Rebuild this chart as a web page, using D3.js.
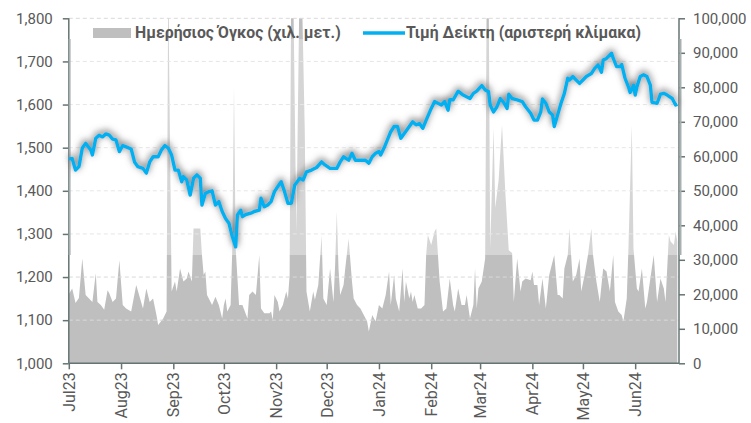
<!DOCTYPE html>
<html>
<head>
<meta charset="utf-8">
<script src="https://cdn.jsdelivr.net/npm/d3@7"></script>
<style>
  body { margin: 0; background: #fff; }
  text { font-family: Roboto, "Liberation Sans", sans-serif; }
</style>
</head>
<body>
<div id="chart"></div>
<script>
// index level (left scale)
const indexDates = ["2023-07-01","2023-07-03","2023-07-05","2023-07-07","2023-07-09","2023-07-11","2023-07-14","2023-07-15","2023-07-17","2023-07-19","2023-07-21","2023-07-23","2023-07-25","2023-07-27","2023-07-29","2023-07-31",
  "2023-08-02","2023-08-04","2023-08-07","2023-08-09","2023-08-11","2023-08-14","2023-08-16","2023-08-18","2023-08-20","2023-08-23","2023-08-25","2023-08-27","2023-08-29","2023-08-31",
  "2023-09-02","2023-09-04","2023-09-06","2023-09-07","2023-09-09","2023-09-11","2023-09-13","2023-09-15","2023-09-17","2023-09-18","2023-09-20","2023-09-22","2023-09-24","2023-09-26","2023-09-28","2023-09-30",
  "2023-10-02","2023-10-04","2023-10-06","2023-10-08","2023-10-09","2023-10-11","2023-10-12","2023-10-14","2023-10-17","2023-10-19","2023-10-22","2023-10-23","2023-10-25","2023-10-27","2023-10-29","2023-10-31",
  "2023-11-02","2023-11-04","2023-11-06","2023-11-08","2023-11-10","2023-11-12","2023-11-15","2023-11-17","2023-11-19","2023-11-22","2023-11-25","2023-11-28","2023-11-30",
  "2023-12-03","2023-12-07","2023-12-09","2023-12-11","2023-12-14","2023-12-16","2023-12-18","2023-12-21","2023-12-24","2023-12-26","2023-12-28","2023-12-30",
  "2024-01-01","2024-01-02","2024-01-04","2024-01-06","2024-01-08","2024-01-10","2024-01-12","2024-01-14","2024-01-16","2024-01-19","2024-01-21","2024-01-23","2024-01-25","2024-01-27","2024-01-29",
  "2024-02-01","2024-02-03","2024-02-05","2024-02-07","2024-02-09","2024-02-11","2024-02-12","2024-02-14","2024-02-17","2024-02-20","2024-02-22","2024-02-24","2024-02-26","2024-02-28",
  "2024-03-02","2024-03-04","2024-03-06","2024-03-07","2024-03-09","2024-03-11","2024-03-13","2024-03-15","2024-03-17","2024-03-18","2024-03-20","2024-03-23","2024-03-26","2024-03-28","2024-03-31",
  "2024-04-02","2024-04-04","2024-04-06","2024-04-07","2024-04-09","2024-04-11","2024-04-13","2024-04-14","2024-04-16","2024-04-18","2024-04-20","2024-04-22","2024-04-23","2024-04-25","2024-04-27","2024-04-29",
  "2024-05-01","2024-05-03","2024-05-06","2024-05-08","2024-05-10","2024-05-12","2024-05-13","2024-05-15","2024-05-18","2024-05-19","2024-05-21","2024-05-23","2024-05-24","2024-05-26","2024-05-28","2024-05-29","2024-05-31",
  "2024-06-01","2024-06-02","2024-06-04","2024-06-06","2024-06-08","2024-06-10","2024-06-11","2024-06-14","2024-06-16","2024-06-18","2024-06-20","2024-06-23","2024-06-25","2024-06-26"];
const indexValues = [1474,1475,1448,1456,1499,1510,1495,1483,1522,1529,1525,1532,1529,1520,1518,1491,
  1505,1502,1497,1467,1456,1452,1441,1467,1479,1479,1495,1505,1499,1483,
  1448,1448,1421,1433,1425,1390,1429,1437,1429,1367,1394,1398,1400,1367,1375,1352,
  1336,1325,1294,1270,1344,1355,1340,1345,1348,1352,1355,1383,1363,1367,1375,1398,
  1410,1421,1398,1371,1371,1413,1429,1425,1444,1448,1454,1467,1460,
  1452,1452,1467,1479,1471,1487,1471,1471,1471,1464,1479,1487,
  1491,1483,1499,1518,1537,1549,1549,1522,1533,1549,1560,1553,1556,1545,1564,
  1591,1607,1603,1599,1607,1587,1611,1611,1631,1622,1618,1614,1626,1631,
  1644,1634,1630,1599,1583,1595,1614,1605,1591,1624,1614,1611,1607,1595,1580,
  1564,1564,1583,1613,1603,1583,1576,1549,1576,1603,1626,1661,1657,1665,1657,1649,
  1657,1665,1672,1684,1692,1675,1703,1707,1719,1707,1688,1688,1693,1661,1641,1628,1645,
  1622,1641,1665,1669,1665,1645,1605,1603,1624,1626,1622,1614,1599,1601];

// daily volume (right scale)
const volumeDates = ["2023-07-01","2023-07-03","2023-07-05","2023-07-07","2023-07-09","2023-07-11","2023-07-13","2023-07-15","2023-07-17","2023-07-18","2023-07-20","2023-07-22","2023-07-24","2023-07-25","2023-07-27","2023-07-29","2023-07-31",
  "2023-08-02","2023-08-04","2023-08-07","2023-08-10","2023-08-12","2023-08-14","2023-08-16","2023-08-18","2023-08-20","2023-08-22","2023-08-23","2023-08-26","2023-08-28","2023-08-29","2023-08-31",
  "2023-09-02","2023-09-03","2023-09-05","2023-09-07","2023-09-09","2023-09-10","2023-09-12","2023-09-13","2023-09-17","2023-09-18","2023-09-19","2023-09-20","2023-09-21","2023-09-24","2023-09-26","2023-09-28","2023-09-30",
  "2023-10-01","2023-10-02","2023-10-03","2023-10-05","2023-10-06","2023-10-07","2023-10-08","2023-10-10","2023-10-12","2023-10-15","2023-10-16","2023-10-18","2023-10-20","2023-10-22","2023-10-23","2023-10-25","2023-10-28","2023-10-29","2023-10-30","2023-10-31",
  "2023-11-02","2023-11-03","2023-11-05","2023-11-07","2023-11-08","2023-11-09","2023-11-10","2023-11-11","2023-11-13","2023-11-15","2023-11-16","2023-11-18","2023-11-19","2023-11-21","2023-11-23","2023-11-24","2023-11-26","2023-11-28","2023-11-29",
  "2023-12-01","2023-12-03","2023-12-05","2023-12-06","2023-12-07","2023-12-08","2023-12-09","2023-12-11","2023-12-12","2023-12-14","2023-12-16","2023-12-17","2023-12-19","2023-12-21","2023-12-23","2023-12-25","2023-12-26","2023-12-28","2023-12-30",
  "2024-01-01","2024-01-03","2024-01-05","2024-01-07","2024-01-08","2024-01-10","2024-01-11","2024-01-13","2024-01-15","2024-01-16","2024-01-17","2024-01-19","2024-01-20","2024-01-21","2024-01-22","2024-01-24","2024-01-26","2024-01-28","2024-01-29","2024-01-30",
  "2024-02-01","2024-02-03","2024-02-04","2024-02-05","2024-02-06","2024-02-08","2024-02-10","2024-02-12","2024-02-14","2024-02-15","2024-02-17","2024-02-19","2024-02-21","2024-02-22","2024-02-24","2024-02-26","2024-02-27","2024-02-28","2024-02-29",
  "2024-03-02","2024-03-04","2024-03-05","2024-03-06","2024-03-07","2024-03-09","2024-03-10","2024-03-12","2024-03-14","2024-03-16","2024-03-18","2024-03-20","2024-03-21","2024-03-23","2024-03-25","2024-03-26","2024-03-28","2024-03-31",
  "2024-04-01","2024-04-02","2024-04-04","2024-04-05","2024-04-07","2024-04-09","2024-04-11","2024-04-14","2024-04-16","2024-04-17","2024-04-19","2024-04-20","2024-04-22","2024-04-23","2024-04-24","2024-04-25","2024-04-27","2024-04-29","2024-04-30",
  "2024-05-02","2024-05-04","2024-05-06","2024-05-07","2024-05-09","2024-05-11","2024-05-13","2024-05-15","2024-05-17","2024-05-19","2024-05-20","2024-05-22","2024-05-24","2024-05-25","2024-05-27","2024-05-28","2024-05-30","2024-05-31",
  "2024-06-02","2024-06-03","2024-06-05","2024-06-07","2024-06-08","2024-06-10","2024-06-12","2024-06-14","2024-06-16","2024-06-18","2024-06-19","2024-06-21","2024-06-22","2024-06-24","2024-06-25","2024-06-26"];
const volumeValues = [20000,21700,17500,18900,30400,19800,18800,17800,26100,17800,16900,15500,21200,20300,17800,18800,29900,
  16900,15900,15000,22700,19300,15900,21700,17800,18800,14000,11100,13000,15000,110000,20800,
  23700,20800,27500,23700,24600,26600,23700,39100,39100,31400,25600,26600,19800,16900,19300,16900,13000,
  16900,18800,15000,16900,33300,80200,33300,16900,16900,13000,19800,20800,19800,31400,15900,14500,14500,15000,12600,19800,
  17800,15000,16900,20800,18800,25600,115000,115000,38000,115000,115000,67100,20800,15000,20800,18400,22700,37200,18800,
  16900,27500,17800,28500,44000,27500,19800,22700,27500,36200,23700,18800,16900,15900,14000,12100,9200,14000,12100,
  16900,15900,19800,26600,16900,25600,18800,15000,27500,17800,23700,18800,20800,17800,19800,15900,15900,16900,31400,37200,
  34300,38200,39100,31400,23700,15000,15900,24600,16900,15000,21700,16900,16900,19800,13000,16900,27500,15900,21700,
  23700,30400,115000,115000,33300,68100,45000,53100,69100,49300,32800,32000,17800,30400,20800,23700,24600,24100,
  26600,22700,22700,16900,24600,15900,25600,31400,19800,19800,18800,27500,31400,39100,31400,23700,25600,30400,20800,
  25600,31400,39100,31400,23700,17800,27500,26600,20800,31400,17800,15000,14000,12100,18800,33300,69100,33300,
  21700,20800,27500,15900,17800,24600,31400,17800,24600,21700,17800,37200,35300,34300,38200,35300];

const leftTicks = [1000,1100,1200,1300,1400,1500,1600,1700,1800];
const rightTicks = [0,10000,20000,30000,40000,50000,60000,70000,80000,90000,100000];
const monthTicks = ["2023-07-01","2023-08-01","2023-09-01","2023-10-01","2023-11-01","2023-12-01","2024-01-01","2024-02-01","2024-03-01","2024-04-01","2024-05-01","2024-06-01"];
const monthLabels = ["Jul23","Aug23","Sep23","Oct23","Nov23","Dec23","Jan24","Feb24","Mar24","Apr24","May24","Jun24"];
const legendLabels = ["Ημερήσιος Όγκος (χιλ. μετ.)","Τιμή Δείκτη (αριστερή κλίμακα)"];

const W = 751, H = 423;
const L = 68.8, R = 679, T = 18.3, B = 363.3;
const parse = d3.timeParse("%Y-%m-%d");
const axisColor = "#667373", textColor = "#595959";

const x = d3.scaleTime().domain([parse("2023-07-01"), parse("2024-06-27")]).range([L, R]);
const yL = d3.scaleLinear().domain([1000, 1800]).range([B, T]);
const yR = d3.scaleLinear().domain([0, 100000]).range([B, T]);

const indexData = indexDates.map((d, i) => ({date: parse(d), value: indexValues[i]}));
const volumeData = volumeDates.map((d, i) => ({date: parse(d), value: volumeValues[i]}));

const svg = d3.select("#chart").append("svg")
  .attr("width", W).attr("height", H);

const defs = svg.append("defs");
defs.append("clipPath").attr("id", "plot")
  .append("rect").attr("x", L).attr("y", T).attr("width", R - L).attr("height", B - T);
const glow = defs.append("filter").attr("id", "glow")
  .attr("x", "-5%").attr("y", "-20%").attr("width", "110%").attr("height", "140%");
glow.append("feGaussianBlur").attr("in", "SourceAlpha").attr("stdDeviation", 3.8).attr("result", "b");
glow.append("feOffset").attr("in", "b").attr("dy", -2.5).attr("result", "o");
glow.append("feFlood").attr("flood-color", "#5a5a5a").attr("flood-opacity", 1);
glow.append("feComposite").attr("in2", "o").attr("operator", "in").attr("result", "s");
const merge = glow.append("feMerge");
merge.append("feMergeNode").attr("in", "s");
merge.append("feMergeNode").attr("in", "SourceGraphic");

// volume area
svg.append("path")
  .datum(volumeData)
  .attr("clip-path", "url(#plot)")
  .attr("fill", "#bfbfbf")
  .attr("d", d3.area().x(d => x(d.date)).y0(B).y1(d => yR(d.value)));

// gridlines
svg.append("g")
  .selectAll("line")
  .data(leftTicks.slice(1))
  .join("line")
  .attr("x1", L).attr("x2", R)
  .attr("y1", d => yL(d)).attr("y2", d => yL(d))
  .attr("stroke", "#d9d9d9").attr("stroke-width", 1).attr("stroke-dasharray", "4,3");

// whitish panel behind the line
svg.append("rect")
  .attr("x", L).attr("y", 39).attr("width", R - L).attr("height", 216)
  .attr("fill", "#fff").attr("opacity", 0.35);

// axes
const gL = svg.append("g").attr("transform", `translate(${L},0)`)
  .call(d3.axisLeft(yL).tickValues(leftTicks).tickSize(6).tickPadding(10).tickFormat(d3.format(",")));
const gR = svg.append("g").attr("transform", `translate(${R},0)`)
  .call(d3.axisRight(yR).tickValues(rightTicks).tickSize(6).tickPadding(8).tickFormat(d3.format(",")));
const gX = svg.append("g").attr("transform", `translate(0,${B})`)
  .call(d3.axisBottom(x).tickValues(monthTicks.map(parse)).tickSize(6).tickSizeOuter(0)
    .tickFormat((d, i) => monthLabels[i]));
gX.selectAll("text")
  .attr("transform", "rotate(-90)")
  .attr("text-anchor", "end")
  .attr("x", -9).attr("y", 0).attr("dy", "0.35em");

[gL, gR, gX].forEach(g => {
  g.attr("font-family", null).attr("font-size", null);
  g.selectAll("path.domain").attr("stroke", axisColor).attr("stroke-width", 1.5);
  g.selectAll(".tick line").attr("stroke", axisColor).attr("stroke-width", 1.5);
  g.selectAll("text").attr("fill", textColor).style("font-size", "15px");
});
gX.selectAll("text").style("font-size", "16px");
gL.select("path.domain").attr("d", `M0,${T}V${B}`);
gR.select("path.domain").attr("d", `M0,${T}V${B}`);
gX.select("path.domain").attr("d", `M${L},0H${R}`);

// panel edges
svg.append("g").selectAll("line")
  .data([L + 0.8, R + 1.5])
  .join("line")
  .attr("x1", d => d).attr("x2", d => d).attr("y1", 39).attr("y2", 255)
  .attr("stroke", "#a9b0b0").attr("stroke-width", 2);

// index line
svg.append("path")
  .datum(indexData)
  .attr("fill", "none")
  .attr("stroke", "#00b0f0")
  .attr("stroke-width", 3.4)
  .attr("stroke-linejoin", "round")
  .attr("filter", "url(#glow)")
  .attr("d", d3.line().x(d => x(d.date)).y(d => yL(d.value)));

// legend
const lg = svg.append("g");
lg.append("rect").attr("x", 93).attr("y", 28).attr("width", 38).attr("height", 10).attr("fill", "#bfbfbf");
lg.append("text").attr("x", 135).attr("y", 38).text(legendLabels[0])
  .attr("fill", textColor).style("font-size", "15.8px").style("font-weight", "bold");
lg.append("line").attr("x1", 363).attr("x2", 405).attr("y1", 33).attr("y2", 33)
  .attr("stroke", "#00b0f0").attr("stroke-width", 3.5);
lg.append("text").attr("x", 406).attr("y", 38).text(legendLabels[1])
  .attr("fill", textColor).style("font-size", "15.8px").style("font-weight", "bold");
</script>
</body>
</html>
